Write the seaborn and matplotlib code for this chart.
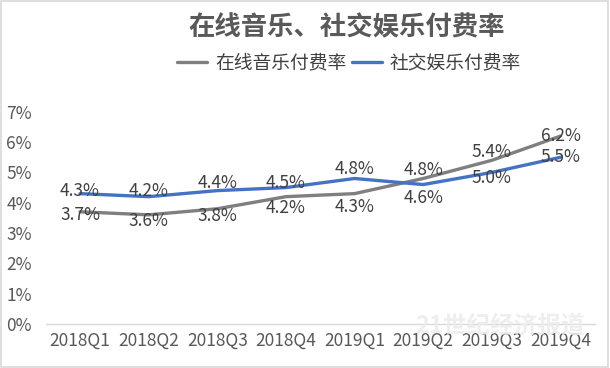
import pandas as pd
import matplotlib.pyplot as plt
import seaborn as sns
from matplotlib.patches import Rectangle
from matplotlib.ticker import FuncFormatter

quarters = ["2018Q1", "2018Q2", "2018Q3", "2018Q4", "2019Q1", "2019Q2", "2019Q3", "2019Q4"]
music_rate = [3.7, 3.6, 3.8, 4.2, 4.3, 4.8, 5.4, 6.2]
social_rate = [4.3, 4.2, 4.4, 4.5, 4.8, 4.6, 5.0, 5.5]
series_names = ["在线音乐付费率", "社交娱乐付费率"]
title = "在线音乐、社交娱乐付费率"

# label offsets in pixels
music_dy = [-3, -6, -7, -11, -13, 8, 8, 0]
social_dy = [3, 6, 8, 5, 9, -13, -6, 0]

sns.set_style("white")
plt.rcParams["font.family"] = ["Noto Sans CJK SC", "DejaVu Sans"]

df = pd.DataFrame({
    "quarter": quarters * 2,
    "pos": list(range(len(quarters))) * 2,
    "rate": music_rate + social_rate,
    "series": [series_names[0]] * len(quarters) + [series_names[1]] * len(quarters),
})

fig = plt.figure(figsize=(6.10, 3.68), dpi=100)
ax = fig.add_axes([0.075, 0.12, 0.9, 0.576])

palette = {series_names[0]: "#7f7f7f", series_names[1]: "#4472c4"}
sns.lineplot(data=df, x="pos", y="rate", hue="series", palette=palette,
             linewidth=2.4, ax=ax, legend=True)

for i, (v, dy) in enumerate(zip(music_rate, music_dy)):
    ax.annotate(f"{v:.1f}%", (i, v), xytext=(0, dy), textcoords="offset pixels",
                ha="center", va="center", fontsize=12.5, color="#404040")
for i, (v, dy) in enumerate(zip(social_rate, social_dy)):
    ax.annotate(f"{v:.1f}%", (i, v), xytext=(0, dy), textcoords="offset pixels",
                ha="center", va="center", fontsize=12.5, color="#404040")

ax.set_xlim(-0.5, len(quarters) - 0.5)
ax.set_ylim(0, 7)
ax.set_xticks(range(len(quarters)))
ax.set_xticklabels(quarters)
ax.set_yticks(range(0, 8))
ax.yaxis.set_major_formatter(FuncFormatter(lambda y, _: f"{y:.0f}%"))
ax.tick_params(axis="x", labelsize=12.5, colors="#595959", length=0, pad=6)
ax.tick_params(axis="y", labelsize=12.5, colors="#595959", length=0, pad=10)
ax.set_xlabel("")
ax.set_ylabel("")
for s in ["top", "right", "left"]:
    ax.spines[s].set_visible(False)
ax.spines["bottom"].set_color("#d9d9d9")
ax.spines["bottom"].set_linewidth(1)

handles, labels = ax.get_legend_handles_labels()
ax.get_legend().remove()
fig.legend(handles, labels, loc="center", bbox_to_anchor=(0.572, 0.828), ncol=2,
           frameon=False, fontsize=13.5, handlelength=1.6, handletextpad=0.4,
           columnspacing=0.3, labelcolor="#404040")

fig.text(0.568, 0.924, title, ha="center", va="center", fontsize=19,
         fontweight="bold", color="#595959")

# watermark
fig.text(0.82, 0.112, "21世纪经济报道", ha="center", va="center", fontsize=17,
         fontweight="bold", color="#ececec", alpha=0.85, zorder=10)

fig.patches.append(Rectangle((0.002, 0.003), 0.995, 0.993, transform=fig.transFigure,
                             fill=False, edgecolor="#d9d9d9", linewidth=1.2))

fig.savefig("out.png", dpi=100)
